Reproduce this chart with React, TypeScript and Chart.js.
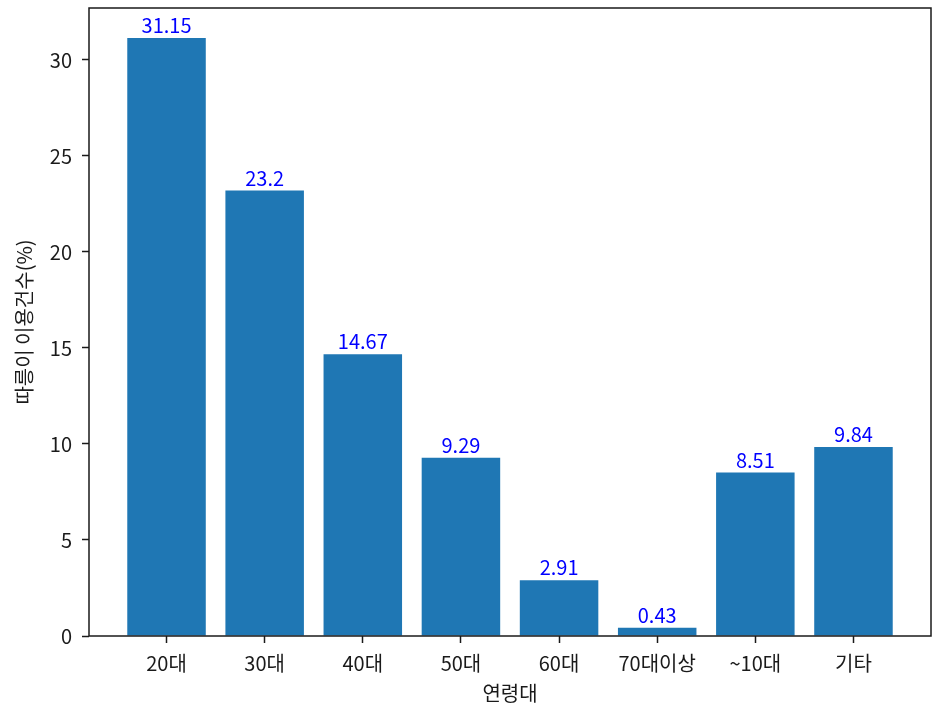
import React, { useEffect, useRef } from "react";
import { Chart, registerables } from "chart.js";

Chart.register(...registerables);

const categories: string[] = ["20대", "30대", "40대", "50대", "60대", "70대이상", "~10대", "기타"];
const shares: number[] = [31.15, 23.2, 14.67, 9.29, 2.91, 0.43, 8.51, 9.84];
const valueLabels: string[] = ["31.15", "23.2", "14.67", "9.29", "2.91", "0.43", "8.51", "9.84"];
const yTicks: number[] = [0, 5, 10, 15, 20, 25, 30];
const xTitle = "연령대";
const yTitle = "따릉이 이용건수(%)";

const FONT = "'Noto Sans CJK KR', 'Noto Sans', sans-serif";
const FS = 20;

export default function App() {
  const ref = useRef<HTMLCanvasElement | null>(null);

  useEffect(() => {
    if (!ref.current) return;
    document.body.style.margin = "0";

    const framePlugin = {
      id: "frame",
      afterDraw(chart: any) {
        const { ctx, chartArea } = chart;
        ctx.save();
        ctx.strokeStyle = "#1a1a1a";
        ctx.lineWidth = 1.5;
        ctx.strokeRect(chartArea.left, chartArea.top, chartArea.right - chartArea.left, chartArea.bottom - chartArea.top);
        ctx.restore();
      },
      afterDatasetsDraw(chart: any) {
        const { ctx } = chart;
        const meta = chart.getDatasetMeta(0);
        ctx.save();
        ctx.fillStyle = "#0000ff";
        ctx.font = `${FS}px ${FONT}`;
        ctx.textAlign = "center";
        ctx.textBaseline = "alphabetic";
        meta.data.forEach((bar: any, i: number) => {
          ctx.fillText(valueLabels[i], bar.x, bar.y - 5);
        });
        ctx.restore();
      },
    };

    const chart = new Chart(ref.current, {
      type: "bar",
      data: {
        datasets: [
          {
            data: shares.map((v, i) => ({ x: i, y: v })),
            backgroundColor: "#1f77b4",
            borderWidth: 0,
            barPercentage: 0.8,
            categoryPercentage: 1.0,
          },
        ],
      },
      options: {
        responsive: false,
        animation: false,
        layout: { padding: { top: 8, right: 1, left: 0, bottom: 0 } },
        plugins: {
          legend: { display: false },
          tooltip: { enabled: false },
        },
        scales: {
          x: {
            type: "linear",
            offset: false,
            min: -0.79,
            max: 7.79,
            afterBuildTicks: (scale: any) => {
              scale.ticks = categories.map((_, i) => ({ value: i }));
            },
            afterFit: (scale: any) => {
              scale.height = 70;
              scale.paddingLeft = 0;
              scale.paddingRight = 0;
            },
            ticks: {
              callback: (v: any) => categories[Math.round(Number(v))] ?? "",
              font: { family: FONT, size: FS },
              color: "#1a1a1a",
              padding: 8.5,
              maxRotation: 0,
              autoSkip: false,
            },
            grid: {
              display: true,
              offset: false,
              drawOnChartArea: false,
              drawTicks: true,
              tickLength: 7,
              tickWidth: 1.5,
              tickColor: "#1a1a1a",
            },
            border: { display: false },
            title: {
              display: true,
              text: xTitle,
              font: { family: FONT, size: FS },
              color: "#1a1a1a",
              padding: { top: 0, bottom: 1 },
            },
          },
          y: {
            type: "linear",
            min: 0,
            max: 32.7075,
            afterBuildTicks: (scale: any) => {
              scale.ticks = yTicks.map((v) => ({ value: v }));
            },
            afterFit: (scale: any) => {
              scale.width = 89;
              scale.paddingTop = 0;
              scale.paddingBottom = 0;
            },
            ticks: {
              font: { family: FONT, size: FS },
              color: "#1a1a1a",
              padding: 10,
            },
            grid: {
              display: true,
              drawOnChartArea: false,
              drawTicks: true,
              tickLength: 7,
              tickWidth: 1.5,
              tickColor: "#1a1a1a",
            },
            border: { display: false },
            title: {
              display: true,
              text: yTitle,
              font: { family: FONT, size: FS },
              color: "#1a1a1a",
              padding: { top: 12, bottom: 0 },
            },
          },
        },
      },
      plugins: [framePlugin],
    } as any);

    return () => chart.destroy();
  }, []);

  return (
    <div style={{ position: "absolute", left: 0, top: 0, width: 932, height: 706, background: "#fff" }}>
      <canvas ref={ref} width={932} height={706} />
    </div>
  );
}
